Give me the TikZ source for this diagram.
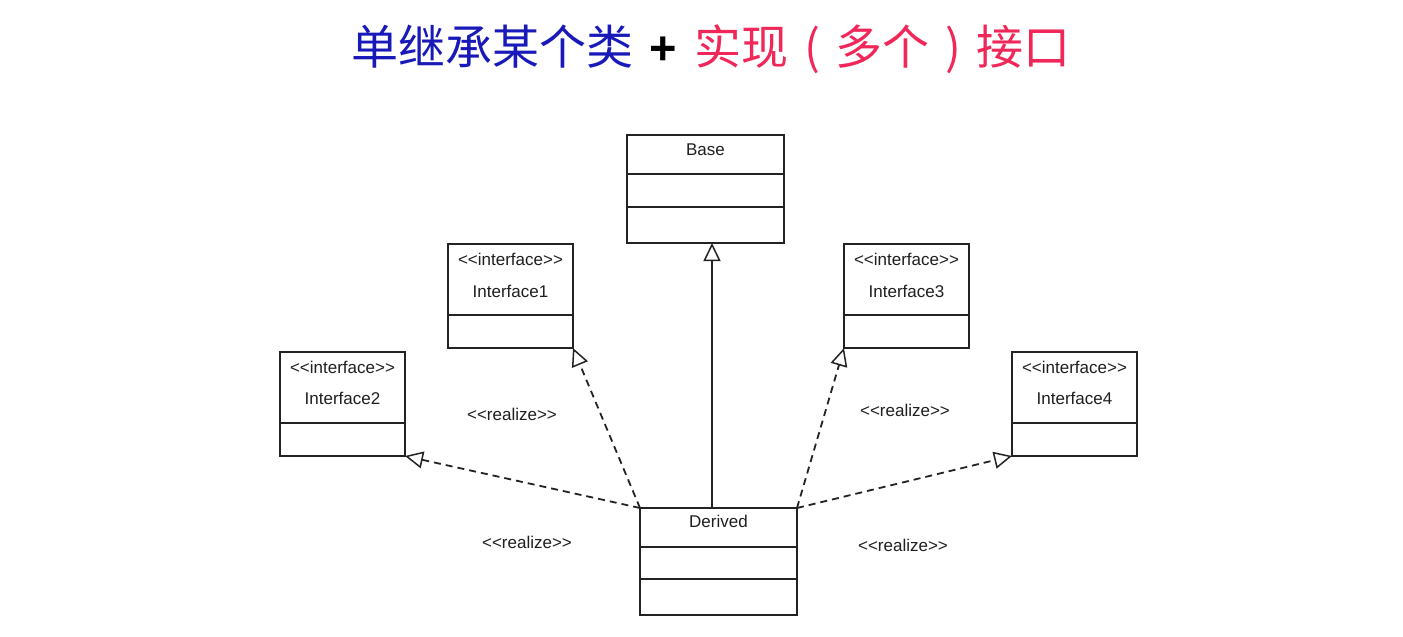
\documentclass[tikz,border=0pt]{standalone}
\usepackage{fontspec}
\setmainfont{Liberation Sans}
\newfontfamily\umlfont{Liberation Sans}
\newfontfamily\cjk{Noto Sans CJK SC}
\usetikzlibrary{arrows.meta}
\definecolor{tblue}{RGB}{25,25,185}
\definecolor{tpink}{RGB}{240,40,90}
\definecolor{uml}{RGB}{35,35,35}
\newcommand{\cpar}[1]{\makebox[47pt][c]{#1}}
\begin{document}
\begin{tikzpicture}[x=1pt,y=-1pt,
  box/.style={draw=uml, line width=2pt, anchor=north west, inner sep=0pt, outer sep=0pt},
  sepline/.style={draw=uml, line width=2pt},
  lbl/.style={font=\umlfont\fontsize{17}{20}\selectfont, text=black!88, inner sep=0pt},
  tip/.style={-{Triangle[open,length=18pt,width=17pt,line width=1.5pt]}},
  real/.style={draw=uml, line width=1.8pt, dash pattern=on 7pt off 5pt, tip},
  gen/.style={draw=uml, line width=2pt, tip}
]
\useasboundingbox[fill=white] (0,0) rectangle (1403,637);

% title
\node[inner sep=0pt] (title) at (711,49) {\cjk\fontsize{47}{50}\selectfont\textcolor{tblue}{单继承某个类}\hspace{16pt}{\umlfont\bfseries\textcolor{black}{+}}\hspace{18pt}\textcolor{tpink}{实现\cpar{(}多个\cpar{)}接口}};

% boxes
\node[box, minimum width=157pt, minimum height=108pt] (base) at (627,135) {};
\node[box, minimum width=157pt, minimum height=107pt] (derived) at (640,508) {};
\node[box, minimum width=125pt, minimum height=104pt] (i1) at (448,244) {};
\node[box, minimum width=125pt, minimum height=104pt] (i2) at (280,352) {};
\node[box, minimum width=125pt, minimum height=104pt] (i3) at (844,244) {};
\node[box, minimum width=125pt, minimum height=104pt] (i4) at (1012,352) {};

% separators
\draw[sepline] ([yshift=-39pt]base.north west) -- ([yshift=-39pt]base.north east);
\draw[sepline] ([yshift=-72pt]base.north west) -- ([yshift=-72pt]base.north east);
\draw[sepline] ([yshift=-39pt]derived.north west) -- ([yshift=-39pt]derived.north east);
\draw[sepline] ([yshift=-71pt]derived.north west) -- ([yshift=-71pt]derived.north east);
\foreach \b in {i1,i2,i3,i4}{
  \draw[sepline] ([yshift=-71pt]\b.north west) -- ([yshift=-71pt]\b.north east);
}

% texts
\node[lbl] (baset) at ([yshift=-15pt]base.north) {Base};
\node[lbl] (derivedt) at ([yshift=-13pt]derived.north) {Derived};
\node[lbl] (i1s) at ([yshift=-15pt]i1.north) {<<interface>>};
\node[lbl] (i1t) at ([yshift=-47pt]i1.north) {Interface1};
\node[lbl] (i2s) at ([yshift=-15pt]i2.north) {<<interface>>};
\node[lbl] (i2t) at ([yshift=-46pt]i2.north) {Interface2};
\node[lbl] (i3s) at ([yshift=-15pt]i3.north) {<<interface>>};
\node[lbl] (i3t) at ([yshift=-47pt]i3.north) {Interface3};
\node[lbl] (i4s) at ([yshift=-15pt]i4.north) {<<interface>>};
\node[lbl] (i4t) at ([yshift=-46pt]i4.north) {Interface4};

\node[lbl] (r1) at (512,414) {<<realize>>};
\node[lbl] (r2) at (527,542) {<<realize>>};
\node[lbl] (r3) at (905,410) {<<realize>>};
\node[lbl] (r4) at (903,545) {<<realize>>};

% connectors
\draw[gen] ([xshift=-6.5pt]derived.north) -- ([xshift=-6.5pt]derived.north |- base.south);
\draw[real] (derived.north west) -- (i1.south east);
\draw[real] (derived.north west) -- (i2.south east);
\draw[real] (derived.north east) -- (i3.south west);
\draw[real] (derived.north east) -- (i4.south west);
\end{tikzpicture}
\end{document}
